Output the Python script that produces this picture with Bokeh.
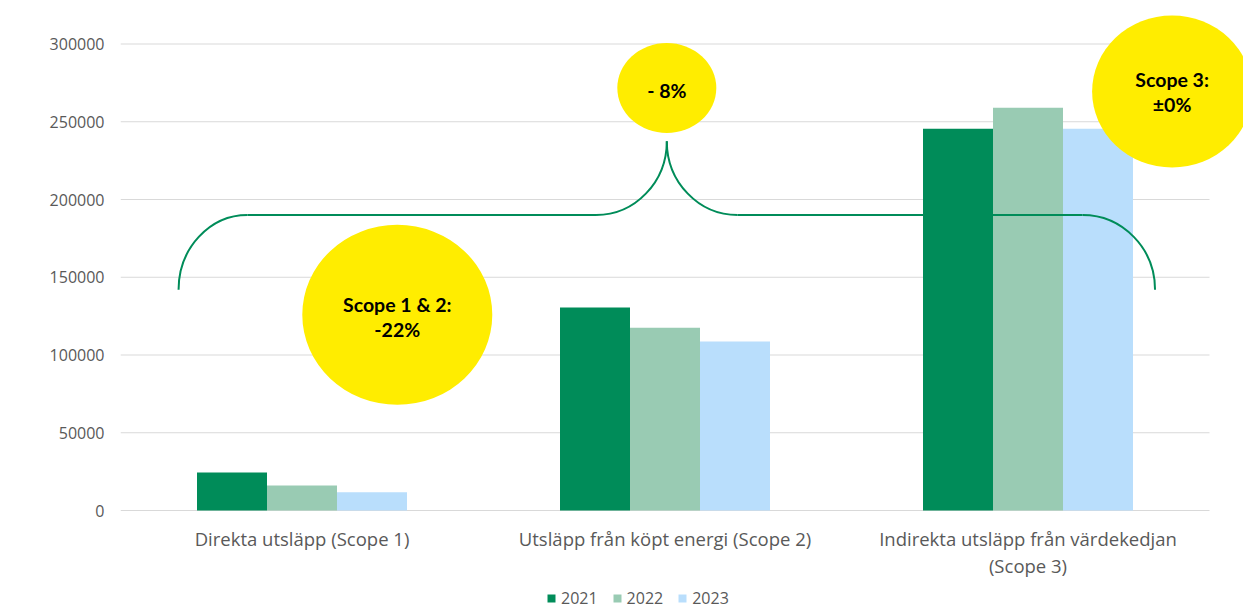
import numpy as np
from bokeh.plotting import figure
from bokeh.models import (ColumnDataSource, Range1d, FixedTicker, NumeralTickFormatter,
                          Legend, LegendItem, Label)
from bokeh.transform import dodge
from bokeh.core.properties import value
from bokeh.embed import file_html
from bokeh.resources import INLINE

# ---------------- data ----------------
categories = ["Direkta utsläpp (Scope 1)",
              "Utsläpp från köpt energi (Scope 2)",
              "Indirekta utsläpp från värdekedjan\n(Scope 3)"]
years = ["2021", "2022", "2023"]
v2021 = [24500, 130500, 245500]
v2022 = [16000, 117500, 259000]
v2023 = [11800, 108700, 245500]
y_ticks = [0, 50000, 100000, 150000, 200000, 250000, 300000]
y_label = "ton CO2e"
bubble_lines = [["Scope 1 & 2:", "-22%"], ["- 8%"], ["Scope 3:", "±0%"]]

# ---------------- style / layout ----------------
colors = ["#008C59", "#99CBB3", "#B9DEFC"]
yellow = "#FFED00"
green_line = "#008C59"
grid_color = "#D9D9D9"
text_grey = "#595959"
FONT = "Open Sans"
BFONT = "Lato"

W, H = 1243, 609
FL, FT, FB = 120, 10, H           # frame left / top / bottom (canvas px)
ZERO = 510                        # canvas px of y = 0
PX_CAT = 363.0                    # px per category
PX_Y = 466.5 / 300000.0           # px per data unit in y

x_end = (W - FL) / PX_CAT
y_start = -(FB - ZERO) / PX_Y
y_end = (ZERO - FT) / PX_Y

p = figure(width=W, height=H, x_range=Range1d(0, x_end), y_range=Range1d(y_start, y_end),
           output_backend="svg", toolbar_location=None, x_axis_location=None,
           min_border_left=FL, min_border_right=0, min_border_top=FT,
           min_border_bottom=0, outline_line_color=None)
p.xgrid.visible = False
p.ygrid.visible = False
p.background_fill_color = "white"
p.border_fill_color = "white"

xc = [i + 0.5 for i in range(len(categories))]

# gridlines from tick values
p.segment(x0=[0] * len(y_ticks), x1=[len(categories)] * len(y_ticks),
          y0=y_ticks, y1=y_ticks, line_color=grid_color, line_width=1.2)

# bars
src = ColumnDataSource(dict(x=xc, y2021=v2021, y2022=v2022, y2023=v2023))
bw = 70.0 / PX_CAT
offsets = [-bw, 0.0, bw]
renderers = []
for yr, off, col in zip(years, offsets, colors):
    r = p.vbar(x=dodge("x", off, range=p.x_range), top="y" + yr, width=bw, source=src,
               fill_color=col, line_color=None)
    renderers.append(r)

# category labels (x axis)
p.text(x=xc, y=[-(525 - ZERO) / PX_Y] * len(xc), text=categories,
       text_font=value(FONT), text_font_size="18.5px", text_color=text_grey,
       text_align="center", text_baseline="top", text_line_height=1.1)

# bracket (annotation)
k = 0.5523
yl, ye, yp = 190000, 142000, 237500
xa, xb, xm1, xpk, xm2, xr1, xr2 = 0.16, 0.35, 1.31, 1.505, 1.70, 2.65, 2.85
p.segment(x0=[xb, xm2], x1=[xm1, xr1], y0=[yl, yl], y1=[yl, yl],
          line_color=green_line, line_width=2)
p.bezier(x0=[xa, xm1, xpk, xr1],
         y0=[ye, yl, yp, yl],
         x1=[xb, xpk, xm2, xr2],
         y1=[yl, yp, yl, ye],
         cx0=[xa, xm1 + k * (xpk - xm1), xpk, xr1 + k * (xr2 - xr1)],
         cy0=[ye + k * (yl - ye), yl, yp - k * (yp - yl), yl],
         cx1=[xb - k * (xb - xa), xpk, xm2 - k * (xm2 - xpk), xr2],
         cy1=[yl, yp - k * (yp - yl), yl, ye + k * (yl - ye)],
         line_color=green_line, line_width=2)

# bubbles
bx = [0.7625, 1.505, 2.897]
by = [125850, 271700, 269450]
p.ellipse(x=bx, y=by, width=[190, 99, 160], height=[180, 90, 152],
          width_units="screen", height_units="screen",
          fill_color=yellow, line_color=None)

line_gap = 24.5 / PX_Y
tx, ty, tt = [], [], []
for x0, y0, lines in zip(bx, [124345, 270100, 269266], bubble_lines):
    n = len(lines)
    for i, s in enumerate(lines):
        tx.append(x0)
        ty.append(y0 + ((n - 1) / 2 - i) * line_gap)
        tt.append(s)
p.text(x=tx, y=ty, text=tt, text_font=value(BFONT), text_font_style="bold",
       text_font_size="19.5px", text_align="center", text_baseline="middle",
       text_color="#000000")

# y axis
p.yaxis.ticker = FixedTicker(ticks=y_ticks)
p.yaxis.formatter = NumeralTickFormatter(format="0")
p.yaxis.axis_line_color = None
p.yaxis.major_tick_line_color = None
p.yaxis.minor_tick_line_color = None
p.yaxis.major_tick_out = 0
p.yaxis.major_label_standoff = 16
p.yaxis.major_label_text_font = FONT
p.yaxis.major_label_text_font_size = "16px"
p.yaxis.major_label_text_color = text_grey

p.add_layout(Label(x=-100, y=(ZERO - 316) / PX_Y, x_units="screen", y_units="data",
                   text=y_label, angle=np.pi / 2, text_align="center", text_baseline="middle",
                   text_font=BFONT, text_font_style="italic", text_font_size="17px",
                   text_color="#000000"))

legend = Legend(items=[LegendItem(label=yr, renderers=[r]) for yr, r in zip(years, renderers)],
                location=(426, 0), orientation="horizontal",
                glyph_width=10, glyph_height=10, label_standoff=5, spacing=14,
                label_height=16, padding=0, margin=0, border_line_alpha=0,
                background_fill_alpha=0,
                label_text_font=FONT, label_text_font_size="16px",
                label_text_color=text_grey)
p.add_layout(legend)

open("out.html", "w").write(file_html(p, INLINE))
